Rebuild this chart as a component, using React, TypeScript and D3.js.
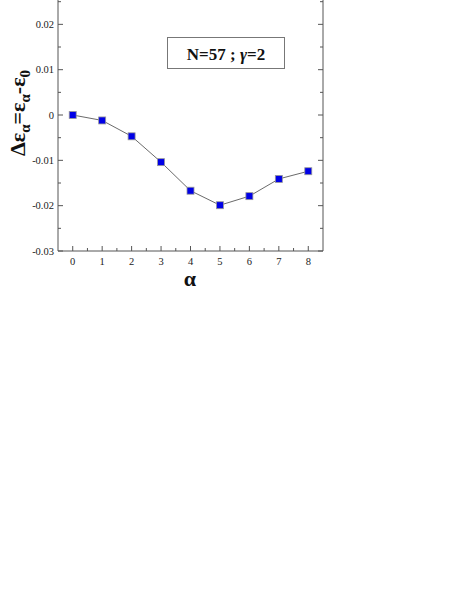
import React from "react";
import * as d3 from "d3";

const alphas = [0, 1, 2, 3, 4, 5, 6, 7, 8];
const deltaE = [0, -0.0012, -0.0047, -0.0104, -0.0167, -0.0199, -0.0179, -0.0141, -0.0124];
const yTickValues = [-0.03, -0.02, -0.01, 0, 0.01, 0.02];
const xTickValues = [0, 1, 2, 3, 4, 5, 6, 7, 8];

export default function App() {
  const left = 58, right = 323, bottom = 251;
  const x = d3.scaleLinear().domain([-0.5, 8.5]).range([left, right]);
  const y = d3.scaleLinear().domain([-0.03, 0.03]).range([bottom, bottom - 6 * 45.33]);
  const top = y(0.03);
  const line = d3.line<number>().x((_, i) => x(alphas[i])).y((d) => y(d));
  const axisColor = "#555";
  const yMinor = d3.range(-0.03, 0.0301, 0.005);
  const xMinor = d3.range(-0.5, 8.51, 0.5);
  const font = "'Liberation Serif', 'Times New Roman', serif";
  return (
    <svg width={471} height={609} style={{ position: "absolute", left: 0, top: 0, background: "#fff" }}>
      <rect x={0} y={0} width={471} height={609} fill="#fff" />
      <line x1={left} x2={left} y1={top} y2={bottom} stroke={axisColor} strokeWidth={1} />
      <line x1={right} x2={right} y1={top} y2={bottom} stroke={axisColor} strokeWidth={1} />
      <line x1={left} x2={right} y1={bottom} y2={bottom} stroke={axisColor} strokeWidth={1} />
      {yMinor.map((v, i) => {
        const major = i % 2 === 0;
        const len = major ? 5 : 3;
        return (
          <g key={"yt" + i}>
            <line x1={left} x2={left + len} y1={y(v)} y2={y(v)} stroke={axisColor} />
            <line x1={right} x2={right - len} y1={y(v)} y2={y(v)} stroke={axisColor} />
          </g>
        );
      })}
      {yTickValues.map((v) => (
        <text key={"yl" + v} x={left - 4} y={y(v)} dy="0.35em" textAnchor="end" fontFamily={font} fontSize={10.5} fill="#222">
          {v === 0 ? "0" : d3.format(".2f")(v).replace("−", "-")}
        </text>
      ))}
      {xMinor.map((v, i) => {
        const major = Math.abs(v - Math.round(v)) < 1e-6;
        const len = major ? 5 : 3;
        if (v <= -0.5 || v >= 8.5) return null;
        return <line key={"xt" + i} x1={x(v)} x2={x(v)} y1={bottom} y2={bottom - len} stroke={axisColor} />;
      })}
      {xTickValues.map((v) => (
        <text key={"xl" + v} x={x(v)} y={bottom + 14} textAnchor="middle" fontFamily={font} fontSize={10.5} fill="#222">
          {v}
        </text>
      ))}
      <path d={line(deltaE) || ""} fill="none" stroke="#444" strokeWidth={0.8} />
      {deltaE.map((d, i) => (
        <rect key={"p" + i} x={x(alphas[i]) - 3.5} y={y(d) - 3.5} width={7} height={7} fill="#0000e6" stroke="#999" strokeWidth={0.8} />
      ))}
      <rect x={167.5} y={37.5} width={117} height={31} fill="#fff" stroke="#777" strokeWidth={1} />
      <text x={226} y={59.5} textAnchor="middle" fontFamily={font} fontSize={17} fontWeight="bold" fill="#111">
        {"N=57 ; "}
        <tspan fontStyle="italic">γ</tspan>
        {"=2"}
      </text>
      <text x={190} y={286} textAnchor="middle" fontFamily={font} fontSize={22} fontWeight="bold" fill="#111">α</text>
      <text transform={`translate(25,${113}) rotate(-90)`} textAnchor="middle" fontFamily={font} fontSize={22} fontWeight="bold" fill="#111">
        {"Δε"}
        <tspan fontSize={15} dy={5}>α</tspan>
        <tspan dy={-5}>{"=ε"}</tspan>
        <tspan fontSize={15} dy={5}>α</tspan>
        <tspan dy={-5}>{"-ε"}</tspan>
        <tspan fontSize={15} dy={5}>0</tspan>
      </text>
    </svg>
  );
}
